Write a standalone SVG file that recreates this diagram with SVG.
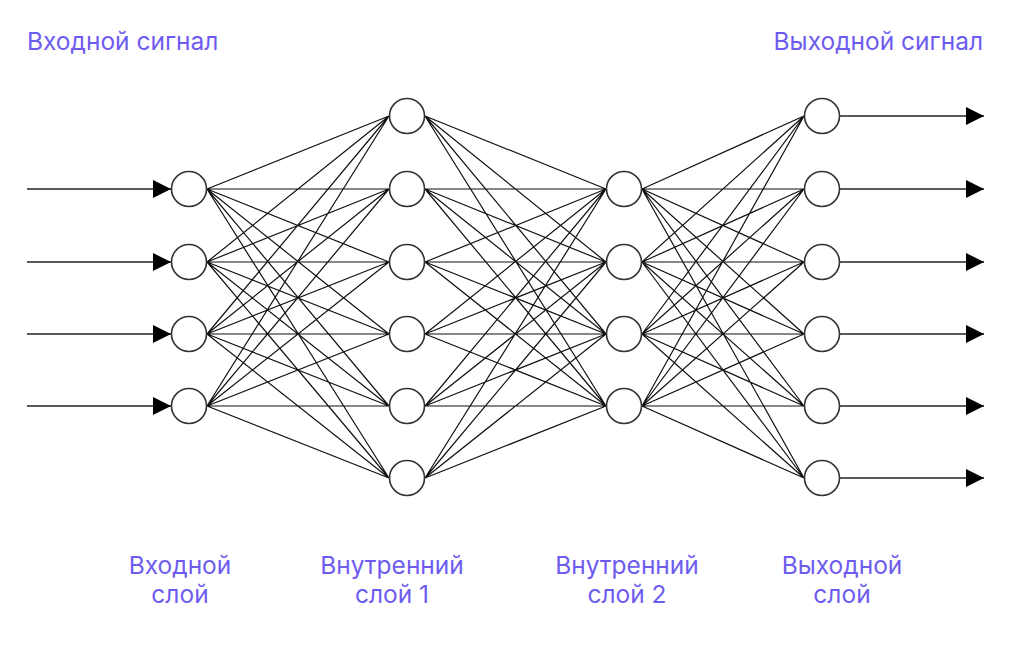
<svg xmlns="http://www.w3.org/2000/svg" width="1024" height="649" viewBox="0 0 1024 649">
<style>
.lbl{font-family:Inter,"Noto Sans",sans-serif;font-size:24.5px;fill:#6e5cf0}
.node{fill:#fff;stroke:#333;stroke-width:1.6}
.e{stroke:#111;stroke-width:1.2;fill:none}
.io{stroke:#222;stroke-width:1.6;fill:none}
</style>
<defs>
<marker id="ah" viewBox="0 0 10 10" refX="10" refY="5" markerWidth="18" markerHeight="18" markerUnits="userSpaceOnUse" orient="auto">
<path d="M0,0 L10,5 L0,10 Z" fill="#000"/>
</marker>
</defs>
<rect width="1024" height="649" fill="#fff"/>
<g id="connectors">
<path class="e" d="M207,189L389,116M207,189L389,189M207,189L389,262M207,189L389,334M207,189L389,406M207,189L389,478
M207,262L389,116M207,262L389,189M207,262L389,262M207,262L389,334M207,262L389,406M207,262L389,478
M207,334L389,116M207,334L389,189M207,334L389,262M207,334L389,334M207,334L389,406M207,334L389,478
M207,406L389,116M207,406L389,189M207,406L389,262M207,406L389,334M207,406L389,406M207,406L389,478"/>
<path class="e" d="M425,116L606,189M425,116L606,262M425,116L606,334M425,116L606,406
M425,189L606,189M425,189L606,262M425,189L606,334M425,189L606,406
M425,262L606,189M425,262L606,262M425,262L606,334M425,262L606,406
M425,334L606,189M425,334L606,262M425,334L606,334M425,334L606,406
M425,406L606,189M425,406L606,262M425,406L606,334M425,406L606,406
M425,478L606,189M425,478L606,262M425,478L606,334M425,478L606,406"/>
<path class="e" d="M642,189L804,116M642,189L804,189M642,189L804,262M642,189L804,334M642,189L804,406M642,189L804,478
M642,262L804,116M642,262L804,189M642,262L804,262M642,262L804,334M642,262L804,406M642,262L804,478
M642,334L804,116M642,334L804,189M642,334L804,262M642,334L804,334M642,334L804,406M642,334L804,478
M642,406L804,116M642,406L804,189M642,406L804,262M642,406L804,334M642,406L804,406M642,406L804,478"/>
<line class="io" x1="27" y1="189" x2="171" y2="189" marker-end="url(#ah)"/>
<line class="io" x1="27" y1="262" x2="171" y2="262" marker-end="url(#ah)"/>
<line class="io" x1="27" y1="334" x2="171" y2="334" marker-end="url(#ah)"/>
<line class="io" x1="27" y1="406" x2="171" y2="406" marker-end="url(#ah)"/>
<line class="io" x1="840" y1="116" x2="984" y2="116" marker-end="url(#ah)"/>
<line class="io" x1="840" y1="189" x2="984" y2="189" marker-end="url(#ah)"/>
<line class="io" x1="840" y1="262" x2="984" y2="262" marker-end="url(#ah)"/>
<line class="io" x1="840" y1="334" x2="984" y2="334" marker-end="url(#ah)"/>
<line class="io" x1="840" y1="406" x2="984" y2="406" marker-end="url(#ah)"/>
<line class="io" x1="840" y1="478" x2="984" y2="478" marker-end="url(#ah)"/>
</g>
<g id="input-layer">
<circle id="in1" class="node" cx="189" cy="189" r="17.5"/>
<circle id="in2" class="node" cx="189" cy="262" r="17.5"/>
<circle id="in3" class="node" cx="189" cy="334" r="17.5"/>
<circle id="in4" class="node" cx="189" cy="406" r="17.5"/>
</g>
<g id="hidden-layer-1">
<circle id="h1a" class="node" cx="407" cy="116" r="17.5"/>
<circle id="h1b" class="node" cx="407" cy="189" r="17.5"/>
<circle id="h1c" class="node" cx="407" cy="262" r="17.5"/>
<circle id="h1d" class="node" cx="407" cy="334" r="17.5"/>
<circle id="h1e" class="node" cx="407" cy="406" r="17.5"/>
<circle id="h1f" class="node" cx="407" cy="478" r="17.5"/>
</g>
<g id="hidden-layer-2">
<circle id="h2a" class="node" cx="624" cy="189" r="17.5"/>
<circle id="h2b" class="node" cx="624" cy="262" r="17.5"/>
<circle id="h2c" class="node" cx="624" cy="334" r="17.5"/>
<circle id="h2d" class="node" cx="624" cy="406" r="17.5"/>
</g>
<g id="output-layer">
<circle id="o1" class="node" cx="822" cy="116" r="17.5"/>
<circle id="o2" class="node" cx="822" cy="189" r="17.5"/>
<circle id="o3" class="node" cx="822" cy="262" r="17.5"/>
<circle id="o4" class="node" cx="822" cy="334" r="17.5"/>
<circle id="o5" class="node" cx="822" cy="406" r="17.5"/>
<circle id="o6" class="node" cx="822" cy="478" r="17.5"/>
</g>
<g id="labels">
<text class="lbl" x="27" y="50">Входной сигнал</text>
<text class="lbl" x="983" y="50" text-anchor="end">Выходной сигнал</text>
<text class="lbl" x="180" y="574" text-anchor="middle">Входной</text>
<text class="lbl" x="180" y="603" text-anchor="middle">слой</text>
<text class="lbl" x="392" y="574" text-anchor="middle">Внутренний</text>
<text class="lbl" x="392" y="603" text-anchor="middle">слой 1</text>
<text class="lbl" x="627" y="574" text-anchor="middle">Внутренний</text>
<text class="lbl" x="627" y="603" text-anchor="middle">слой 2</text>
<text class="lbl" x="842" y="574" text-anchor="middle">Выходной</text>
<text class="lbl" x="842" y="603" text-anchor="middle">слой</text>
</g>
</svg>
